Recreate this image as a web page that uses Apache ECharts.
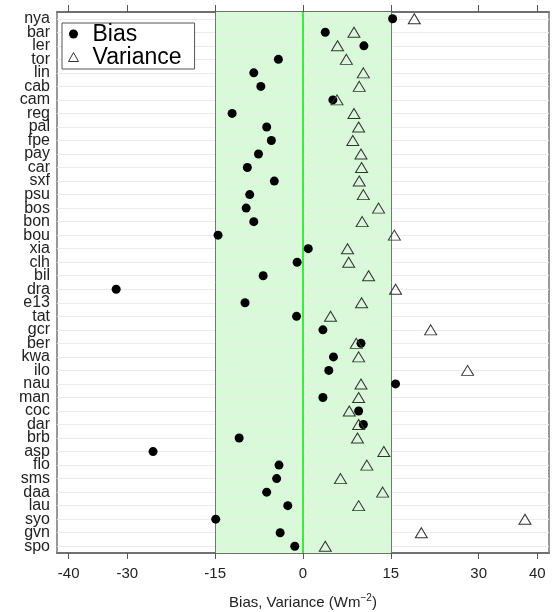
<!DOCTYPE html>
<html><head><meta charset="utf-8">
<script src="https://cdn.jsdelivr.net/npm/echarts@6/dist/echarts.min.js"></script>
<style>html,body{margin:0;padding:0;background:#fff}#c{width:558px;height:612px}</style>
</head><body><div id="c"></div>
<script>
const categories = ['nya','bar','ler','tor','lin','cab','cam','reg','pal','fpe','pay','car','sxf','psu','bos','bon','bou','xia','clh','bil','dra','e13','tat','gcr','ber','kwa','ilo','nau','man','coc','dar','brb','asp','flo','sms','daa','lau','syo','gvn','spo'];
const bias = [15.3,3.8,10.4,-4.2,-8.4,-7.2,5.1,-12.1,-6.2,-5.4,-7.6,-9.5,-4.9,-9.1,-9.7,-8.4,-14.5,0.9,-1.0,-6.8,-31.9,-9.9,-1.1,3.4,9.9,5.2,4.4,15.8,3.4,9.5,10.3,-10.9,-25.6,-4.1,-4.5,-6.2,-2.6,-14.9,-3.9,-1.4];
const variance = [19.0,8.7,5.9,7.4,10.3,9.6,5.8,8.7,9.5,8.5,9.9,10.0,9.6,10.3,12.9,10.1,15.6,7.6,7.8,11.2,15.8,10.0,4.7,21.8,9.1,9.5,28.1,9.9,9.5,7.9,9.5,9.3,13.8,10.9,6.4,13.6,9.5,37.9,20.2,3.8];
const tickValues = [-40,-30,-15,0,15,30,40];
const bandLimits = [-15,15];

const FONT = 'Liberation Sans, Arial, sans-serif';
const chart = echarts.init(document.getElementById('c'));
const gridLines = categories.map(c => ({yAxis: c, lineStyle:{color:'#ebebeb', width:1, type:'solid'}}));
const vLines = [
  {xAxis: bandLimits[0], lineStyle:{color:'#e4463f', width:1, type:'solid'}},
  {xAxis: bandLimits[1], lineStyle:{color:'#e4463f', width:1, type:'solid'}},
  {xAxis: 0, lineStyle:{color:'#11e011', width:1.5, type:'solid'}}
];
chart.setOption({
  animation:false,
  textStyle:{fontFamily:FONT},
  grid:{left:57, right:9, top:12, bottom:59, show:true, borderColor:'#777', borderWidth:1.5, backgroundColor:'transparent', outerBoundsMode:'none', containLabel:false},
  legend:{
    left:62, top:23, orient:'vertical', z:50,
    data:[
      {name:'Bias', icon:'circle', itemStyle:{color:'#000'}},
      {name:'Variance', icon:'triangle', itemStyle:{color:'rgba(0,0,0,0)', borderColor:'#333', borderWidth:1}}
    ],
    backgroundColor:'#fff', borderColor:'#555', borderWidth:1,
    padding:[0,13,0,6], itemGap:0, itemWidth:10, itemHeight:9,
    formatter: n => '{a|' + n + '}',
    textStyle:{color:'#000', fontFamily:FONT, rich:{a:{fontSize:23, height:21, lineHeight:21, padding:[1,0,0,9], color:'#000', fontFamily:FONT}}}
  },
  xAxis:[{
    type:'value', position:'bottom', min:-42, max:42,
    splitLine:{show:false},
    axisLine:{show:true, lineStyle:{color:'#707070', width:2}},
    axisTick:{show:true, length:6, customValues:tickValues, lineStyle:{color:'#555'}},
    axisLabel:{customValues:tickValues, fontSize:15, color:'#222', margin:13, fontFamily:FONT},
    name:'{n|Bias, Variance (Wm}{s|−2}{n|)}', nameLocation:'middle', nameGap:40,
    nameTextStyle:{rich:{n:{fontSize:15, lineHeight:20, color:'#222', fontFamily:FONT}, s:{fontSize:10, verticalAlign:'top', color:'#222', fontFamily:FONT}}}
  },{
    type:'value', position:'top', min:-42, max:42,
    splitLine:{show:false},
    axisLine:{show:true, lineStyle:{color:'#707070', width:2}},
    axisTick:{show:true, length:7, customValues:tickValues, lineStyle:{color:'#555'}},
    axisLabel:{show:false}
  }],
  yAxis:{
    type:'category', inverse:true, data:categories,
    axisLine:{show:false}, axisTick:{show:false}, splitLine:{show:false},
    axisLabel:{interval:0, fontSize:16, color:'#222', margin:7, fontFamily:FONT}
  },
  series:[
    {
      name:'helper', type:'scatter', data:[], silent:true, z:1,
      markArea:{silent:true, itemStyle:{color:'#d8fad8'}, data:[[{xAxis:bandLimits[0]},{xAxis:bandLimits[1]}]]},
      markLine:{silent:true, symbol:['none','none'], label:{show:false}, data:gridLines.concat(vLines)}
    },
    {
      name:'Bias', type:'scatter', z:10, symbol:'circle', symbolSize:9,
      itemStyle:{color:'#000', opacity:1},
      data: categories.map((c,i)=>[bias[i], c])
    },
    {
      name:'Variance', type:'scatter', z:10, symbol:'triangle', symbolSize:[12,10],
      itemStyle:{color:'rgba(0,0,0,0)', borderColor:'#333', borderWidth:1, opacity:1},
      data: categories.map((c,i)=>[variance[i], c])
    }
  ]
});
</script></body></html>
